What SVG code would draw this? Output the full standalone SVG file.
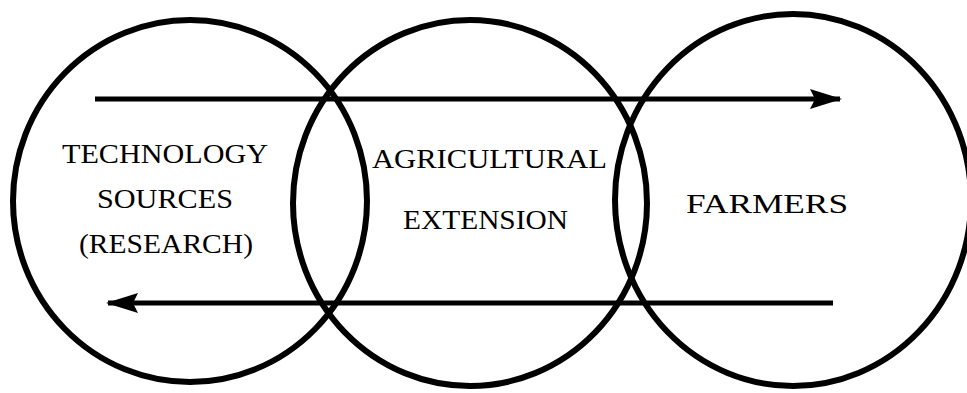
<svg xmlns="http://www.w3.org/2000/svg" width="967" height="393" viewBox="0 0 967 393">
<style>
.c{fill:none;stroke:#000;stroke-width:6}
.a{fill:none;stroke:#000;stroke-width:5}
.t{font-family:"Liberation Serif","Times New Roman",serif;font-size:27px;fill:#000}
</style>
<defs>
<marker id="ah" viewBox="0 0 32 20" refX="30" refY="10" markerWidth="32" markerHeight="20" markerUnits="userSpaceOnUse" orient="auto">
<path d="M0,0 L32,10 L0,20 L5,10 Z" fill="#000"/>
</marker>
</defs>
<rect width="967" height="393" fill="#fff"/>
<g id="node-research">
<ellipse class="c" cx="190" cy="201" rx="177" ry="181"/>
<text class="t" x="62" y="163" textLength="206" lengthAdjust="spacingAndGlyphs">TECHNOLOGY</text>
<text class="t" x="97" y="208" textLength="136" lengthAdjust="spacingAndGlyphs">SOURCES</text>
<text class="t" x="79" y="253" textLength="174" lengthAdjust="spacingAndGlyphs">(RESEARCH)</text>
</g>
<g id="node-extension">
<ellipse class="c" cx="470" cy="203" rx="177" ry="183"/>
<text class="t" x="372" y="168" textLength="235" lengthAdjust="spacingAndGlyphs">AGRICULTURAL</text>
<text class="t" x="403" y="229" textLength="165" lengthAdjust="spacingAndGlyphs">EXTENSION</text>
</g>
<g id="node-farmers">
<ellipse class="c" cx="793" cy="200" rx="178" ry="186"/>
<text class="t" x="686" y="213" textLength="162" lengthAdjust="spacingAndGlyphs">FARMERS</text>
</g>
<g id="connectors">
<line class="a" x1="95" y1="99" x2="840" y2="99" marker-end="url(#ah)"/>
<line class="a" x1="833" y1="303" x2="108" y2="303" marker-end="url(#ah)"/>
</g>
</svg>
